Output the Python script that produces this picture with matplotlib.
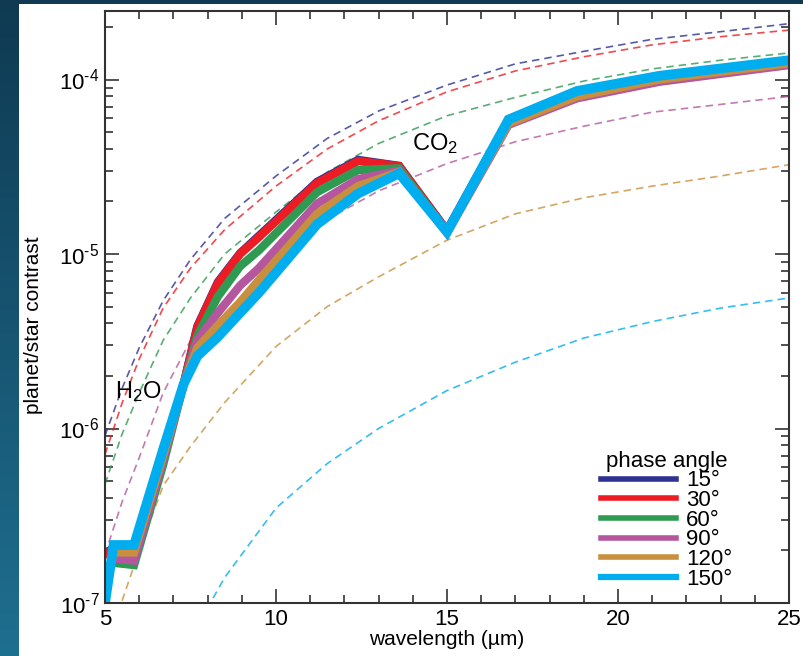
import numpy as np
import matplotlib
matplotlib.use("Agg")
import matplotlib.pyplot as plt
from matplotlib.lines import Line2D
from matplotlib.patches import Rectangle
from matplotlib.colors import LinearSegmentedColormap
from matplotlib.ticker import MultipleLocator, LogLocator, FuncFormatter, NullFormatter

plt.rcParams['font.family'] = ['Liberation Sans', 'DejaVu Sans']
plt.rcParams['mathtext.fontset'] = 'custom'
plt.rcParams['mathtext.rm'] = 'Liberation Sans'
plt.rcParams['mathtext.it'] = 'Liberation Sans'
plt.rcParams['mathtext.default'] = 'regular'

# model spectra (solid), one per phase angle
wl = [5.0, 5.25, 5.85, 6.7, 7.3, 7.7, 8.3, 8.95, 9.5, 11.2, 12.4, 13.6, 15.0, 16.8, 18.8, 21.2, 25.0]
c15 = [1.92e-7, 2.07e-7, 2.1e-7, 7.1e-7, 1.8e-6, 3.85e-6, 6.9e-6, 1.01e-5, 1.27e-5, 2.59e-5, 3.46e-5, 3.2e-5, 1.36e-5, 5.9e-5, 8.5e-5, 1.04e-4, 1.28e-4]
c30 = [1.9e-7, 2.05e-7, 2.1e-7, 7.0e-7, 1.8e-6, 3.8e-6, 6.8e-6, 1.0e-5, 1.25e-5, 2.55e-5, 3.41e-5, 3.19e-5, 1.36e-5, 5.9e-5, 8.5e-5, 1.04e-4, 1.28e-4]
c60 = [1.55e-7, 1.7e-7, 1.65e-7, 6.2e-7, 1.8e-6, 3.4e-6, 5.7e-6, 8.5e-6, 1.05e-5, 2.26e-5, 3.03e-5, 3.1e-5, 1.34e-5, 5.8e-5, 8.4e-5, 1.03e-4, 1.27e-4]
c90 = [1.4e-7, 1.8e-7, 1.75e-7, 6.6e-7, 1.8e-6, 3.2e-6, 4.6e-6, 6.6e-6, 8.3e-6, 1.94e-5, 2.69e-5, 3.0e-5, 1.32e-5, 5.5e-5, 7.8e-5, 9.7e-5, 1.21e-4]
c120 = [1.2e-7, 1.95e-7, 1.95e-7, 7.0e-7, 1.8e-6, 2.9e-6, 3.9e-6, 5.3e-6, 7.1e-6, 1.7e-5, 2.45e-5, 2.95e-5, 1.34e-5, 5.6e-5, 8.0e-5, 1.0e-4, 1.24e-4]
c150 = [1.0e-7, 2.15e-7, 2.15e-7, 7.6e-7, 1.8e-6, 2.6e-6, 3.35e-6, 4.6e-6, 6.0e-6, 1.48e-5, 2.22e-5, 2.9e-5, 1.34e-5, 5.9e-5, 8.6e-5, 1.05e-4, 1.29e-4]

# blackbody curves (dashed)
wl_bb = [5.0, 5.5, 6.0, 6.7, 7.5, 8.5, 10.0, 11.5, 13.0, 15.0, 17.0, 19.0, 21.0, 23.0, 25.0]
bb15 = [9.1e-7, 1.7e-6, 2.9e-6, 5.4e-6, 9.3e-6, 1.6e-5, 2.8e-5, 4.6e-5, 6.6e-5, 9.3e-5, 1.23e-4, 1.45e-4, 1.7e-4, 1.88e-4, 2.09e-4]
bb30 = [7.1e-7, 1.4e-6, 2.5e-6, 4.9e-6, 8.3e-6, 1.38e-5, 2.45e-5, 4.0e-5, 5.8e-5, 8.5e-5, 1.12e-4, 1.35e-4, 1.58e-4, 1.76e-4, 1.92e-4]
bb60 = [4.8e-7, 9.3e-7, 1.6e-6, 3.2e-6, 5.6e-6, 1.0e-5, 1.74e-5, 2.95e-5, 4.3e-5, 6.2e-5, 7.9e-5, 9.8e-5, 1.15e-4, 1.29e-4, 1.42e-4]
bb90 = [1.9e-7, 3.8e-7, 6.8e-7, 1.6e-6, 3.2e-6, 5.5e-6, 1.0e-5, 1.58e-5, 2.3e-5, 3.3e-5, 4.4e-5, 5.4e-5, 6.5e-5, 7.2e-5, 8.0e-5]
wl_bb120 = [5.3, 5.5, 6.0, 6.7, 7.5, 8.5, 10.0, 11.5, 13.0, 15.0, 17.0, 19.0, 21.0, 23.0, 25.0]
bb120 = [7.5e-8, 1.03e-7, 2.0e-7, 4.7e-7, 7.9e-7, 1.41e-6, 2.95e-6, 5.0e-6, 7.4e-6, 1.2e-5, 1.7e-5, 2.1e-5, 2.45e-5, 2.8e-5, 3.25e-5]
wl_bb150 = [7.8, 8.5, 10.0, 11.5, 13.0, 15.0, 17.0, 19.0, 21.0, 23.0, 25.0]
bb150 = [8.0e-8, 1.4e-7, 3.5e-7, 6.3e-7, 1.0e-6, 1.65e-6, 2.4e-6, 3.3e-6, 4.1e-6, 4.9e-6, 5.6e-6]

labels = ['15°', '30°', '60°', '90°', '120°', '150°']
colors = ['#2e3192', '#ed1c24', '#2f9a52', '#b5579e', '#c8903e', '#00aeef']

fig = plt.figure(figsize=(8.04, 6.56), dpi=100)

# dark gradient slide background with white panel
bg = fig.add_axes([0, 0, 1, 1], zorder=-10)
grad = np.linspace(0, 1, 256).reshape(-1, 1)
cm = LinearSegmentedColormap.from_list('bg', ['#0f3a52', '#1f6f90'])
bg.imshow(grad, aspect='auto', cmap=cm, extent=[0, 1, 0, 1], origin='upper')
bg.set_axis_off()
bg.add_patch(Rectangle((19 / 804, 0), 1, 1 - 4 / 656, facecolor='white', edgecolor='none',
                       transform=bg.transAxes))

ax = fig.add_axes([105 / 804, 53 / 656, 684 / 804, 592 / 656])
ax.set_yscale('log')

for w, v, col in zip([wl_bb, wl_bb, wl_bb, wl_bb, wl_bb120, wl_bb150],
                     [bb15, bb30, bb60, bb90, bb120, bb150], colors):
    ax.plot(w, v, color=col, lw=1.2, alpha=0.8, dashes=(4.5, 3))

for v, col in zip([c15, c30, c60, c90, c120, c150], colors):
    ax.plot(wl, v, color=col, lw=7 if col == '#00aeef' else 6, solid_joinstyle='miter')

ax.set_xlim(5, 25)
ax.set_ylim(1e-7, 2.47e-4)
ax.xaxis.set_major_locator(MultipleLocator(5))
ax.xaxis.set_minor_locator(MultipleLocator(1))
ax.yaxis.set_major_locator(LogLocator(base=10))
ax.yaxis.set_minor_locator(LogLocator(base=10, subs=np.arange(2, 10)))
ax.yaxis.set_minor_formatter(NullFormatter())
ax.yaxis.set_major_formatter(FuncFormatter(lambda v, p: '$10^{\u2010%d}$' % abs(int(round(np.log10(v))))))
ax.tick_params(which='both', direction='in', top=True, right=True, width=1.2, color='#333333',
               labelsize=16)
ax.tick_params(which='major', length=10, pad=4)
ax.tick_params(which='minor', length=6)
for s in ax.spines.values():
    s.set_linewidth(1.5)
    s.set_color('#333333')

ax.set_xlabel('wavelength (µm)', fontsize=15, labelpad=0)
ax.set_ylabel('planet/star contrast', fontsize=15)
ax.yaxis.set_label_coords(-0.09, 0.47)

ax.text(5.3, 1.62e-6, 'H$_2$O', fontsize=17, ha='left', va='center')
ax.text(13.98, 4.3e-5, 'CO$_2$', fontsize=17, ha='left', va='center')

handles = [Line2D([], [], color=c, lw=4.5 if c == '#00aeef' else 4) for c in colors]
leg = ax.legend(handles, labels, title='phase angle', loc='lower left', bbox_to_anchor=(0.705, 0.0),
                frameon=False, fontsize=16, title_fontsize=16, labelspacing=-0.06,
                handlelength=3.4, handletextpad=0.45, borderaxespad=0.2)

fig.savefig('out.png', dpi=100)
